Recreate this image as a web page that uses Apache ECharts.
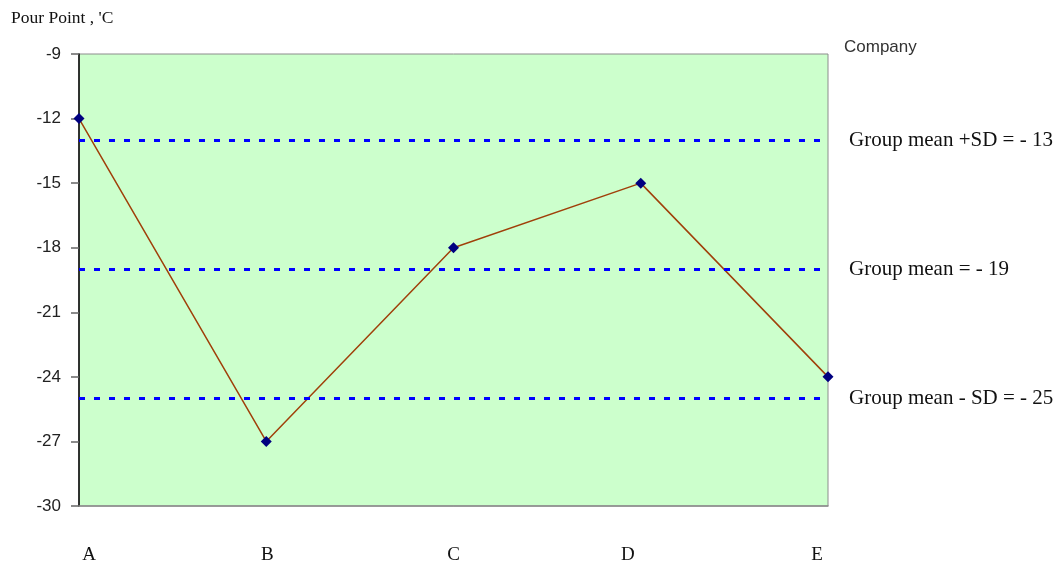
<!DOCTYPE html>
<html>
<head>
<meta charset="utf-8">
<script src="https://cdn.jsdelivr.net/npm/echarts@6/dist/echarts.min.js"></script>
<style>
  html, body { margin: 0; padding: 0; background: #ffffff; }
  #chart { width: 1056px; height: 565px; }
</style>
</head>
<body>
<div id="chart"></div>
<script>
// Companies on the horizontal axis
const companies = ['A', 'B', 'C', 'D', 'E'];
// Pour point reported by each company, °C
const pourPoint = [-12, -27, -18, -15, -24];
// Group statistics drawn as dashed reference lines
const refNames = ['Group mean +SD', 'Group mean', 'Group mean - SD'];
const refValues = [-13, -19, -25];
// Value axis range and step
const yMin = -30, yMax = -9, yStep = 3;

const serif = 'Liberation Serif, Times New Roman, serif';
const sans = 'Liberation Sans, Arial, sans-serif';

// Small horizontal nudges for the company labels under the axis
const labelShift = { A: 10, B: 1, C: 0, D: -13, E: -11 };
const rich = {};
companies.forEach(c => {
  const s = labelShift[c] || 0;
  rich['c' + c] = {
    fontFamily: serif, fontSize: 19, color: '#111',
    padding: s >= 0 ? [0, 0, 0, 2 * s] : [0, -2 * s, 0, 0]
  };
});

// Dashed blue style of the reference lines
const refLineStyle = { color: '#0000ff', width: 3, type: [6, 9], dashOffset: 0, cap: 'butt' };

const chart = echarts.init(document.getElementById('chart'), null, { renderer: 'canvas' });

chart.setOption({
  animation: false,
  backgroundColor: '#ffffff',
  title: [
    {
      text: "Pour Point , 'C",
      left: 6,
      top: 4,
      textStyle: { fontFamily: serif, fontSize: 17.5, fontWeight: 'normal', color: '#111' }
    },
    {
      text: 'Company',
      left: 839,
      top: 34,
      textStyle: { fontFamily: sans, fontSize: 17, fontWeight: 'normal', color: '#333' }
    }
  ],
  grid: {
    left: 79, right: 228, top: 54, bottom: 59,
    show: true,
    backgroundColor: '#ccffcc',
    borderColor: '#8c8c8c',
    borderWidth: 1
  },
  xAxis: {
    type: 'category',
    data: companies,
    boundaryGap: false,
    axisLine: { show: true, lineStyle: { color: '#8c8c8c', width: 1.5 } },
    axisTick: { show: false },
    axisLabel: {
      margin: 40,
      formatter: v => '{c' + v + '|' + v + '}',
      rich: rich
    },
    splitLine: { show: false }
  },
  yAxis: {
    type: 'value',
    min: yMin, max: yMax, interval: yStep,
    axisLine: { show: true, lineStyle: { color: '#000', width: 1.5 } },
    axisTick: { show: true, length: 8, lineStyle: { color: '#666', width: 1.5 } },
    axisLabel: { margin: 18, fontFamily: sans, fontSize: 17, color: '#222' },
    splitLine: { show: false }
  },
  series: [
    {
      name: 'Pour Point',
      type: 'line',
      data: pourPoint,
      symbol: 'diamond',
      symbolSize: 11,
      itemStyle: { color: '#000080' },
      lineStyle: { color: '#a0400a', width: 1.5 },
      z: 3
    },
    {
      name: 'Group statistics',
      type: 'line',
      data: [],
      z: 6,
      markLine: {
        silent: true,
        symbol: ['none', 'none'],
        lineStyle: refLineStyle,
        label: {
          show: true,
          position: 'end',
          distance: 21,
          fontFamily: serif,
          fontSize: 21,
          color: '#111',
          formatter: p => p.name + ' = - ' + Math.abs(p.value)
        },
        data: refValues.map((v, i) => ({ name: refNames[i], yAxis: v, lineStyle: refLineStyle }))
      }
    }
  ]
});
</script>
</body>
</html>
